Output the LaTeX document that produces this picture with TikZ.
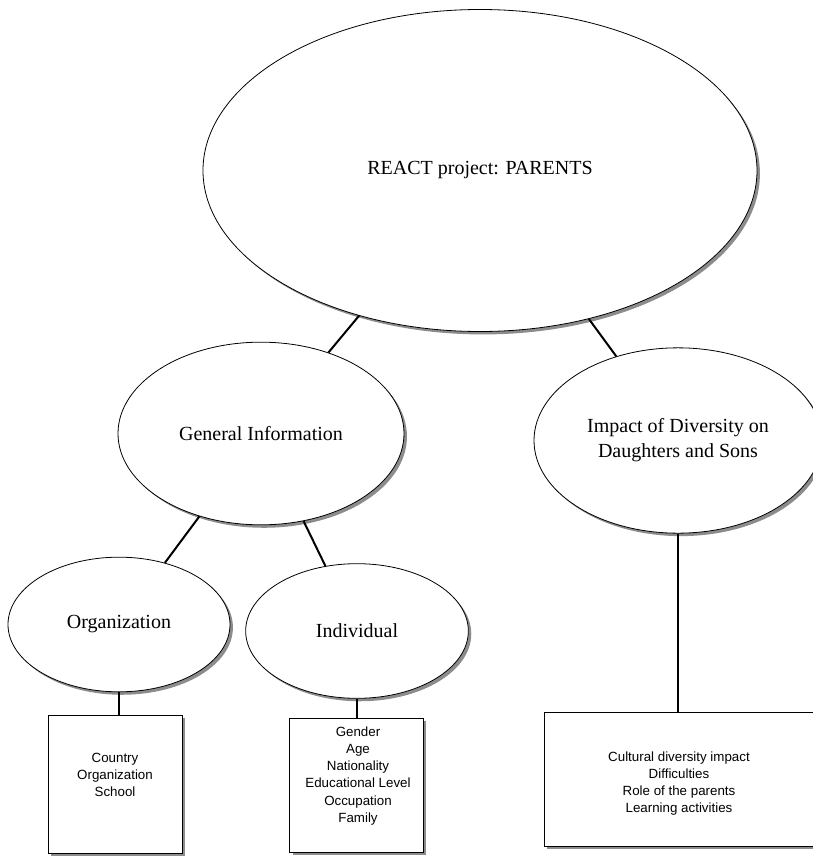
\documentclass[tikz,border=0pt]{standalone}
\usepackage{fontspec}
\setmainfont{Liberation Serif}
\setsansfont{Liberation Sans}
\usetikzlibrary{shapes.geometric,shadows}

\tikzset{
  topic/.style={ellipse, draw, line width=0.6pt, fill=white, inner sep=0pt,
    align=center, font=\fontsize{15}{18.75}\selectfont,
    drop shadow={shadow xshift=2.2pt, shadow yshift=-2.2pt, fill=black!45, opacity=1}},
  listbox/.style={rectangle, draw, line width=0.6pt, fill=white, inner sep=0pt,
    drop shadow={shadow xshift=2.2pt, shadow yshift=-2.2pt, fill=black!45, opacity=1}},
  listtext/.style={align=center, inner sep=0pt, font=\sffamily\fontsize{10}{12.8}\selectfont},
  link/.style={line width=1.5pt}
}

\begin{document}
\begin{tikzpicture}[x=0.75pt,y=-0.75pt]
        \clip (0,0) rectangle (813,857);
        % ellipses
        \node[topic, minimum width=415.5pt, minimum height=241.5pt] (react) at (480,170.5) {REACT project: PARENTS};
        \node[topic, minimum width=214.5pt, minimum height=137pt] (geninfo) at (261,433.5) {General Information};
        \node[topic, minimum width=216pt, minimum height=139pt] (impact) at (678,440.5) {Impact of Diversity on\\Daughters and Sons};
        \node[topic, minimum width=166.5pt, minimum height=101pt] (org) at (119,624.5) {Organization};
        \node[topic, minimum width=167pt, minimum height=101pt] (indiv) at (357,631) {Individual};

        % boxes
        \node[listbox, minimum width=100.5pt, minimum height=103.5pt] (orgbox) at (115,784) {};
        \node[listtext] (orgtext) at (115,775) {Country\\Organization\\School};
        \node[listbox, minimum width=100pt, minimum height=100.5pt] (indivbox) at (356.5,785) {};
        \node[listtext] (indivtext) at (358,776) {Gender\\Age\\Nationality\\Educational Level\\Occupation\\Family};
        \node[listbox, minimum width=202.5pt, minimum height=100pt] (impactbox) at (679,779.5) {};
        \node[listtext] (impacttext) at (679,783.5) {Cultural diversity impact\\Difficulties\\Role of the parents\\Learning activities};

        % connectors
        \draw[link] (react) -- (geninfo);
        \draw[link] (react) -- (impact);
        \draw[link] (geninfo) -- (org);
        \draw[link] (geninfo) -- (indiv);
        \draw[link] (org) -- (org |- orgbox.north);
        \draw[link] (indiv) -- (indiv |- indivbox.north);
        \draw[link] (impact) -- (impact |- impactbox.north);
    \end{tikzpicture}
\end{document}
